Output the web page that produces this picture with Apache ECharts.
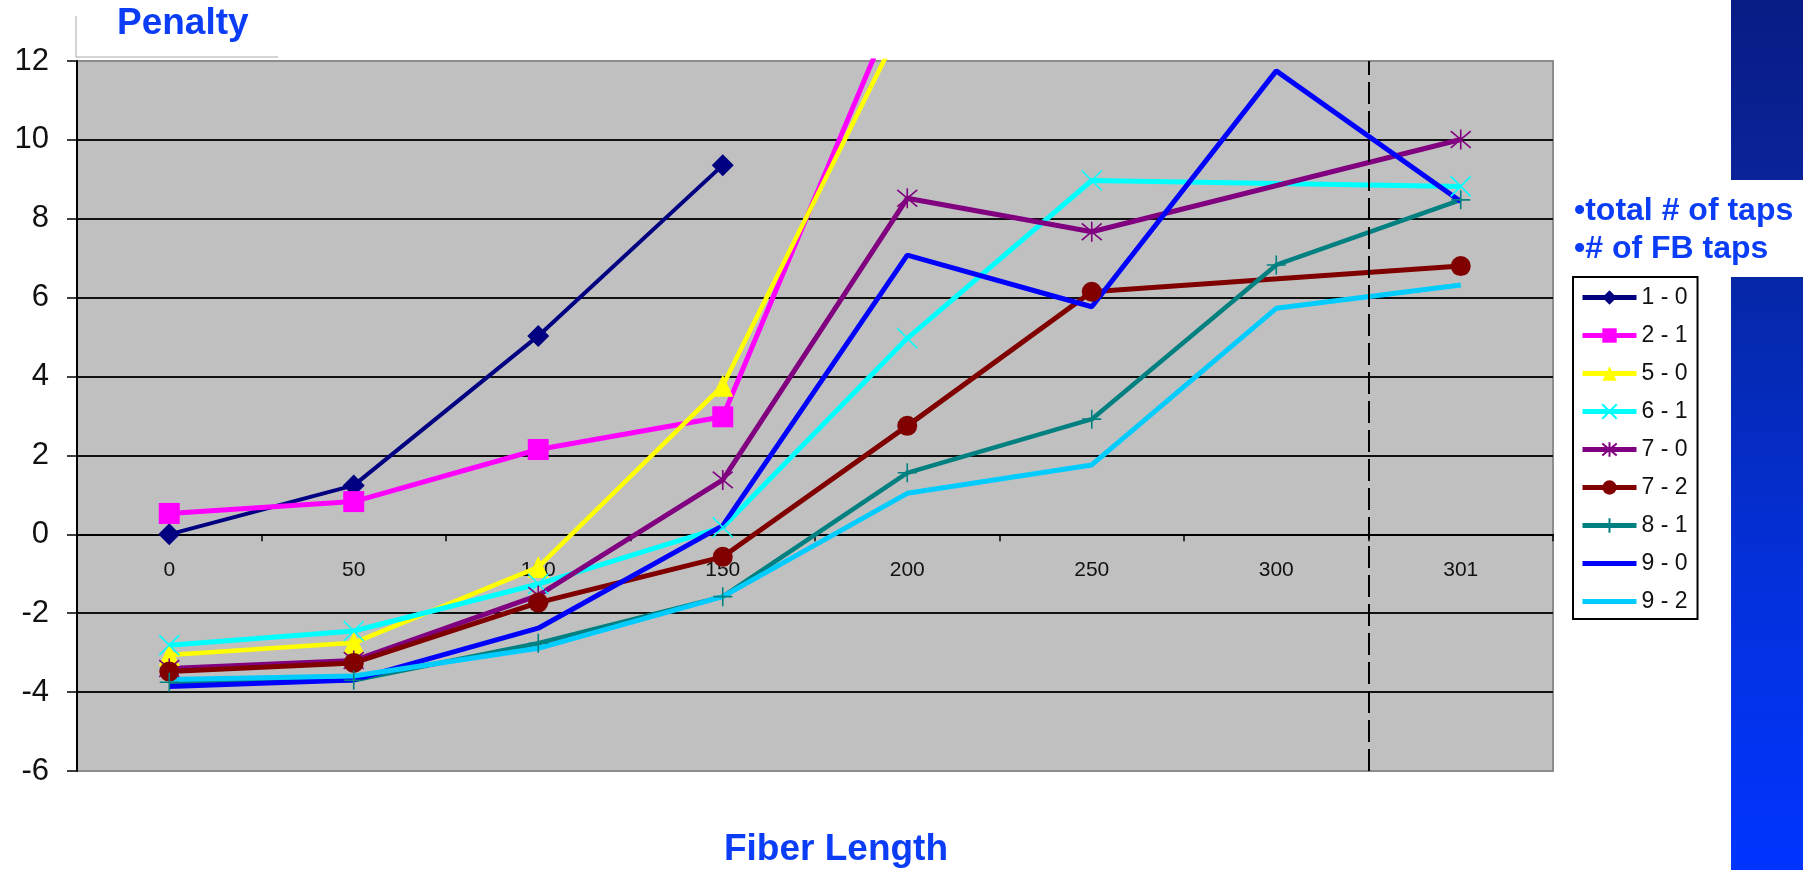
<!DOCTYPE html>
<html><head><meta charset="utf-8">
<script src="https://cdn.jsdelivr.net/npm/echarts@6/dist/echarts.min.js"></script>
<style>html,body{margin:0;padding:0;background:#fff}#c{width:1803px;height:870px}</style>
</head><body><div id="c"></div>
<script>
// ---- data ----
const categories = ['0', '50', '100', '150', '200', '250', '300', '301'];
const yMin = -6, yMax = 12, yInterval = 2;
const s10 = [0.0, 1.24, 5.03, 9.36, null, null, null, null];
const s21 = [0.53, 0.83, 2.15, 2.98, 14.1, null, null, null];
const s50 = [-3.06, -2.75, -0.83, 3.77, 13.2, null, null, null];
const s61 = [-2.81, -2.45, -1.26, 0.18, 4.97, 8.97, null, 8.82];
const s70 = [-3.4, -3.2, -1.55, 1.38, 8.52, 7.67, null, 10.01];
const s72 = [-3.48, -3.26, -1.73, -0.57, 2.75, 6.15, null, 6.8];
const s81 = [-3.75, -3.7, -2.76, -1.58, 1.56, 2.92, 6.83, 8.48];
const s90 = [-3.86, -3.69, -2.38, 0.22, 7.08, 5.77, 11.75, 8.44];
const s92 = [-3.68, -3.59, -2.89, -1.58, 1.04, 1.76, 5.73, 6.32];
const seriesNames = ['1 - 0', '2 - 1', '5 - 0', '6 - 1', '7 - 0', '7 - 2', '8 - 1', '9 - 0', '9 - 2'];
const dividerAt = 7; // band boundary between '300' and '301'
const yTitle = 'Penalty';
const xTitle = 'Fiber Length';
const legendTitle = ['\u2022total # of taps', '\u2022# of FB taps'];

// ---- styling ----
const FONT = '"Liberation Sans", Arial, sans-serif';
const TITLE_BLUE = '#0B3DF7';
const GRID = {left: 77, right: 250, top: 61, bottom: 99};
const CHART_H = 870;
const xPath = 'path://M0,0L10,10M10,0L0,10';
const starPath = 'path://M0,0L10,10M10,0L0,10M5,-1L5,11';
const plusPath = 'path://M5,0L5,10M0,5L10,5';
const lineIcon = 'path://M0,0L54,0L54,5L0,5Z';
const styles = [
  {color: '#000080', symbol: 'diamond', size: [22, 22], width: 4},
  {color: '#FF00FF', symbol: 'rect', size: 21, width: 5},
  {color: '#FFFF00', symbol: 'triangle', size: [21, 22], width: 4.5},
  {color: '#00FFFF', symbol: xPath, size: 20, width: 5, stroke: true},
  {color: '#800080', symbol: starPath, size: 20, width: 5, stroke: true},
  {color: '#800000', symbol: 'circle', size: 20, width: 5},
  {color: '#008080', symbol: plusPath, size: 19, width: 4.5, stroke: true},
  {color: '#0000FF', symbol: 'none', size: 0, width: 5},
  {color: '#00CCFF', symbol: 'none', size: 0, width: 5}
];
const allData = [s10, s21, s50, s61, s70, s72, s81, s90, s92];

const nSplit = Math.round((yMax - yMin) / yInterval) + 1;
const splitColors = [];
for (let i = 0; i < nSplit; i++) splitColors.push(i === 0 || i === nSplit - 1 ? '#8c8c8c' : '#111');

// place the category axis on the zero line of the value axis
const gridH = CHART_H - GRID.top - GRID.bottom;
const zeroOffset = -((0 - yMin) / (yMax - yMin)) * gridH;

const series = allData.map((d, i) => {
  const st = styles[i];
  return {
    name: seriesNames[i], type: 'line', data: d,
    symbol: st.symbol, symbolSize: st.size, showSymbol: st.symbol !== 'none',
    connectNulls: true, clip: true,
    lineStyle: {color: st.color, width: st.width},
    itemStyle: {
      color: st.stroke ? 'rgba(0,0,0,0)' : st.color,
      borderColor: st.color, borderWidth: st.stroke ? 1.6 : 0
    },
    emphasis: {disabled: true}, animation: false
  };
});
series.push({
  type: 'line', xAxisIndex: 1, data: [], silent: true, animation: false,
  markLine: {
    silent: true, symbol: 'none', animation: false,
    label: {show: false},
    lineStyle: {color: '#000', type: [22, 7], width: 2},
    data: [{xAxis: dividerAt}]
  }
});

const legendData = seriesNames.map((n, i) => {
  const st = styles[i];
  return st.symbol === 'none' ? {name: n, icon: lineIcon, itemStyle: {color: st.color, borderWidth: 0}} : {name: n};
});

const chart = echarts.init(document.getElementById('c'));
chart.setOption({
  animation: false,
  backgroundColor: '#fff',
  grid: Object.assign({show: true, backgroundColor: '#C0C0C0', borderColor: '#8c8c8c', borderWidth: 2}, GRID),
  xAxis: [{
    type: 'category', data: categories, boundaryGap: true, position: 'bottom', offset: zeroOffset,
    axisLine: {onZero: false, lineStyle: {color: '#000', width: 2}},
    axisTick: {show: true, length: 7, lineStyle: {color: '#000', width: 1.5}},
    axisLabel: {fontFamily: FONT, fontSize: 21, color: '#111', margin: 25},
    splitLine: {show: false}
  }, {
    type: 'value', min: 0, max: categories.length, show: false
  }],
  yAxis: {
    type: 'value', min: yMin, max: yMax, interval: yInterval,
    axisLine: {show: true, onZero: false, lineStyle: {color: '#000', width: 2}},
    axisTick: {show: true, length: 10, lineStyle: {color: '#000', width: 1.5}},
    axisLabel: {fontFamily: FONT, fontSize: 31, color: '#111', margin: 28},
    splitLine: {show: true, lineStyle: {color: splitColors, width: 2}}
  },
  legend: {
    orient: 'vertical', left: 1573, top: 277,
    data: legendData, selectedMode: false,
    itemWidth: 54, itemHeight: 18, itemGap: 15,
    padding: [9, 10, 6, 7],
    backgroundColor: '#fff', borderColor: '#000', borderWidth: 2,
    lineStyle: {width: 5},
    textStyle: {fontFamily: FONT, fontSize: 23, color: '#111'}
  },
  graphic: [
    {type: 'rect', shape: {x: 1731, y: 0, width: 72, height: 180}, silent: true,
     style: {fill: new echarts.graphic.LinearGradient(0, 0, 0, 1, [
       {offset: 0, color: '#071C84'}, {offset: 1, color: '#0A2399'}])}},
    {type: 'rect', shape: {x: 1731, y: 277, width: 72, height: 593}, silent: true,
     style: {fill: new echarts.graphic.LinearGradient(0, 0, 0, 1, [
       {offset: 0, color: '#0527A6'}, {offset: 0.5, color: '#0430DA'}, {offset: 1, color: '#0035FF'}])}},
    {type: 'line', shape: {x1: 76, y1: 16, x2: 76, y2: 57}, silent: true, style: {stroke: '#a8a8a8', lineWidth: 1}},
    {type: 'line', shape: {x1: 76, y1: 57, x2: 278, y2: 57}, silent: true, style: {stroke: '#a8a8a8', lineWidth: 1}},
    {type: 'text', x: 117, y: 24, silent: true,
     style: {text: yTitle, fontFamily: FONT, fontSize: 37, fontWeight: 'bold', fill: TITLE_BLUE,
             textAlign: 'left', textVerticalAlign: 'middle', align: 'left', verticalAlign: 'middle'}},
    {type: 'text', x: 836, y: 850, silent: true,
     style: {text: xTitle, fontFamily: FONT, fontSize: 37, fontWeight: 'bold', fill: TITLE_BLUE,
             textAlign: 'center', textVerticalAlign: 'middle', align: 'center', verticalAlign: 'middle'}},
    {type: 'text', x: 1574, y: 211, silent: true,
     style: {text: legendTitle[0], fontFamily: FONT, fontSize: 32, fontWeight: 'bold', fill: TITLE_BLUE,
             textAlign: 'left', textVerticalAlign: 'middle', align: 'left', verticalAlign: 'middle'}},
    {type: 'text', x: 1574, y: 249, silent: true,
     style: {text: legendTitle[1], fontFamily: FONT, fontSize: 32, fontWeight: 'bold', fill: TITLE_BLUE,
             textAlign: 'left', textVerticalAlign: 'middle', align: 'left', verticalAlign: 'middle'}}
  ],
  series: series
});
</script>
</body></html>
